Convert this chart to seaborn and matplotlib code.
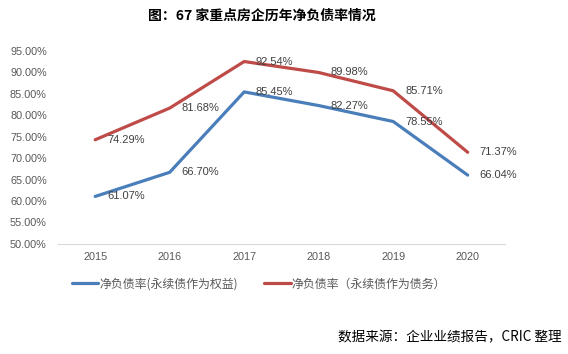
import matplotlib
matplotlib.use("Agg")
import matplotlib.pyplot as plt
import seaborn as sns
import pandas as pd

years = ["2015", "2016", "2017", "2018", "2019", "2020"]
equity_vals = [61.07, 66.70, 85.45, 82.27, 78.55, 66.04]
debt_vals = [74.29, 81.68, 92.54, 89.98, 85.71, 71.37]
series_names = ["净负债率(永续债作为权益)", "净负债率（永续债作为债务）"]
title = "图：67 家重点房企历年净负债率情况"
source = "数据来源：企业业绩报告，CRIC 整理"
yticks = [50, 55, 60, 65, 70, 75, 80, 85, 90, 95]

sns.set_theme(style="white")
plt.rcParams['font.family'] = ['Liberation Sans', 'Noto Sans CJK SC', 'DejaVu Sans']

df = pd.DataFrame({
    "year": years * 2,
    "value": equity_vals + debt_vals,
    "series": [series_names[0]] * len(years) + [series_names[1]] * len(years),
})

fig = plt.figure(figsize=(5.68, 3.54), dpi=100)
ax = fig.add_axes([0.102, 0.311, 0.787, 0.545])
colors = {series_names[0]: "#4A7EBB", series_names[1]: "#BE4B48"}
sns.lineplot(data=df, x="year", y="value", hue="series", palette=colors,
             sort=False, linewidth=2.3, ax=ax, legend=True)

for vals in (equity_vals, debt_vals):
    for i, v in enumerate(vals):
        ax.annotate(f"{v:.2f}%", (i, v), xytext=(8.5, 0), textcoords="offset points",
                    ha="left", va="center", fontsize=8, color="#404040")

ax.set_xlim(-0.5, len(years) - 0.5)
ax.set_ylim(50, 95)
ax.set_yticks(yticks)
ax.set_yticklabels([f"{t:.2f}%" for t in yticks])
ax.set_xlabel("")
ax.set_ylabel("")
for s in ["top", "right", "left"]:
    ax.spines[s].set_visible(False)
ax.spines["bottom"].set_color("#D9D9D9")
ax.spines["bottom"].set_linewidth(0.8)
ax.tick_params(axis="both", length=0, labelsize=7.8, labelcolor="#595959")
ax.tick_params(axis="y", pad=8)
ax.tick_params(axis="x", pad=6)

handles, labels = ax.get_legend_handles_labels()
ax.legend(handles, labels, loc="center", bbox_to_anchor=(259 / 568, 1 - 284 / 354),
          bbox_transform=fig.transFigure, ncol=2, frameon=False,
          handlelength=2.2, handletextpad=0.1, columnspacing=2.2,
          prop={'family': ['Noto Sans CJK SC', 'DejaVu Sans'], 'size': 8.6},
          labelcolor="#595959")

fig.text(262 / 568, 1 - 16 / 354, title, ha="center", va="center", fontsize=10,
         fontweight="bold", family=['Noto Sans CJK SC', 'DejaVu Sans'], color="black")
fig.text(562 / 568, 1 - 337 / 354, source, ha="right", va="center", fontsize=9.8,
         family=['Noto Sans CJK SC', 'DejaVu Sans'], color="black")

fig.savefig("out.png", dpi=100)
